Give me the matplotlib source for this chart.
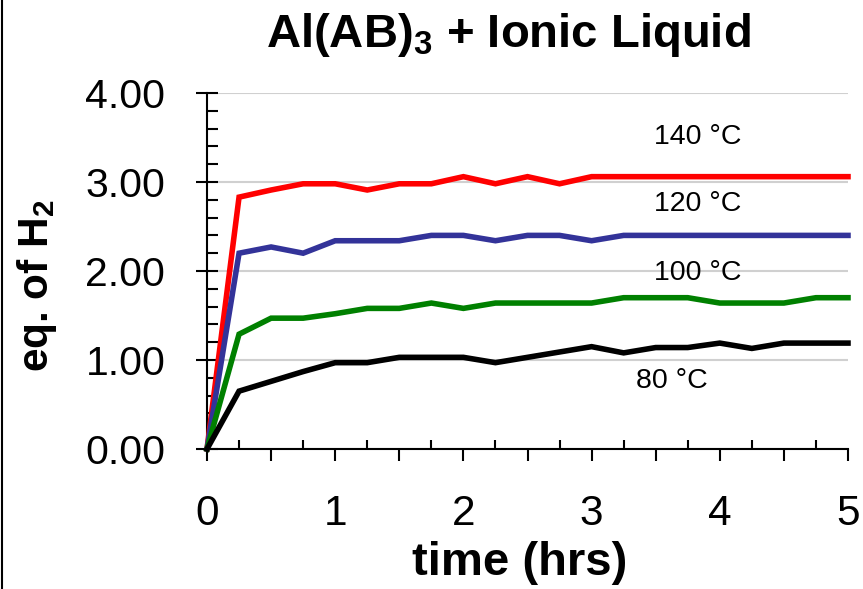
import matplotlib
matplotlib.use("Agg")
import matplotlib.pyplot as plt
from matplotlib.ticker import MultipleLocator, FuncFormatter
from matplotlib.lines import Line2D

plt.rcParams['font.family'] = ['Liberation Sans', 'DejaVu Sans']
plt.rcParams['mathtext.fontset'] = 'custom'
plt.rcParams['mathtext.rm'] = 'Liberation Sans'
plt.rcParams['mathtext.bf'] = 'Liberation Sans:bold'

time_hrs = [0, 0.25, 0.5, 0.75, 1.0, 1.25, 1.5, 1.75, 2.0, 2.25, 2.5,
            2.75, 3.0, 3.25, 3.5, 3.75, 4.0, 4.25, 4.5, 4.75, 5.0]
h2_140 = [0, 2.83, 2.91, 2.98, 2.98, 2.91, 2.98, 2.98, 3.06, 2.98, 3.06,
          2.98, 3.06, 3.06, 3.06, 3.06, 3.06, 3.06, 3.06, 3.06, 3.06]
h2_120 = [0, 2.20, 2.27, 2.20, 2.34, 2.34, 2.34, 2.40, 2.40, 2.34, 2.40,
          2.40, 2.34, 2.40, 2.40, 2.40, 2.40, 2.40, 2.40, 2.40, 2.40]
h2_100 = [0, 1.29, 1.47, 1.47, 1.52, 1.58, 1.58, 1.64, 1.58, 1.64, 1.64,
          1.64, 1.64, 1.70, 1.70, 1.70, 1.64, 1.64, 1.64, 1.70, 1.70]
h2_80 = [0, 0.65, 0.76, 0.87, 0.97, 0.97, 1.03, 1.03, 1.03, 0.97, 1.03,
         1.09, 1.15, 1.08, 1.14, 1.14, 1.19, 1.13, 1.19, 1.19, 1.19]
series_labels = ['140 °C', '120 °C', '100 °C', '80 °C']
series_colors = ['#FF0000', '#333399', '#008000', '#000000']
label_pos = [(3.83, 3.51), (3.83, 2.75), (3.83, 1.98), (3.63, 0.76)]

fig = plt.figure(figsize=(8.63, 5.89), dpi=100)
ax = fig.add_axes([207/863, 1-449/589, (848-207)/863, (449-93)/589])

for ys, c in zip([h2_140, h2_120, h2_100, h2_80], series_colors):
    ax.plot(time_hrs, ys, color=c, lw=4.0, solid_joinstyle='miter', clip_on=False, zorder=3)

for lab, (x, y) in zip(series_labels, label_pos):
    ax.text(x, y, lab, ha='center', va='center', fontsize=20.5)

ax.set_xlim(0, 5)
ax.set_ylim(0, 4)
ax.xaxis.set_major_locator(MultipleLocator(0.5))
ax.xaxis.set_minor_locator(MultipleLocator(0.25))
ax.xaxis.set_major_formatter(FuncFormatter(lambda v, p: f"{int(round(v))}" if abs(v - round(v)) < 1e-6 else ""))
ax.yaxis.set_major_locator(MultipleLocator(1))
ax.yaxis.set_minor_locator(MultipleLocator(0.2))
ax.yaxis.set_major_formatter(FuncFormatter(lambda v, p: f"{v:.2f}"))

ax.tick_params(axis='x', which='major', direction='out', length=8.6, width=1.5, labelsize=30.5, pad=24)
ax.tick_params(axis='x', which='minor', direction='in', length=6.5, width=1.5)
ax.tick_params(axis='y', which='major', direction='inout', length=16, width=1.5, labelsize=29.5, pad=22)
ax.tick_params(axis='y', which='minor', direction='in', length=8, width=1.5)

ax.grid(axis='y', which='major', color='#d0d0d0', lw=1.5, zorder=0)
ax.set_axisbelow(True)
for s in ['top', 'right']:
    ax.spines[s].set_visible(False)
for s in ['left', 'bottom']:
    ax.spines[s].set_linewidth(1.5)

fig.text(520/863, 1-563/589, 'time (hrs)', ha='center', va='center', fontsize=34, fontweight='bold')
fig.text(37/863, 1-285/589, r'eq. of H$_\mathbf{2}$', ha='center', va='center', rotation=90,
         fontsize=30.5, fontweight='bold')
fig.text(508/863, 1-47/589, r'Al(AB)$_\mathbf{3}$ + Ionic Liquid', ha='center', va='baseline',
         fontsize=34, fontweight='bold')

fig.add_artist(Line2D([1.5/863, 1.5/863], [0, 1], color='black', lw=1.5, transform=fig.transFigure))

fig.savefig('out.png', dpi=100)
